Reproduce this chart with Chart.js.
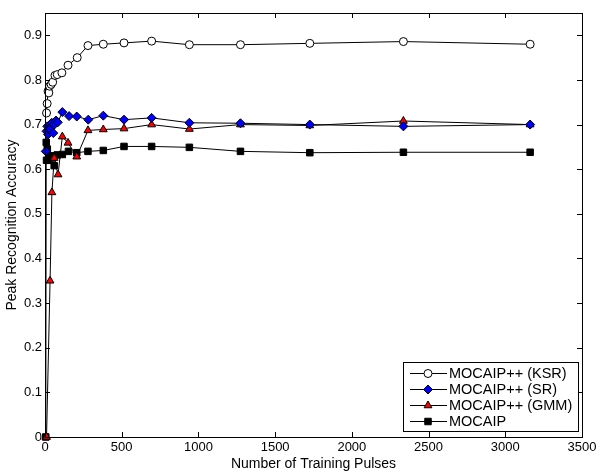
<!DOCTYPE html>
<html>
<head>
<meta charset="utf-8">
<script src="https://cdn.jsdelivr.net/npm/chart.js@4"></script>
<style>
  html, body { margin: 0; padding: 0; background: #fff; }
  #wrap { width: 600px; height: 474px; }
</style>
</head>
<body>
<div id="wrap"><canvas id="accChart" width="600" height="474"></canvas></div>
<script>
// values
const ksrX = [10, 14, 20, 25, 30, 40, 50, 65, 80, 110, 150, 210, 280, 380, 515, 695, 941, 1274, 1726, 2336, 3162];
const ksrY = [0.726, 0.747, 0.775, 0.771, 0.786, 0.790, 0.795, 0.810, 0.812, 0.816, 0.833, 0.850, 0.877, 0.880, 0.883, 0.887, 0.879, 0.879, 0.882, 0.886, 0.880];

const srX = [5, 10, 15, 20, 25, 33, 44, 54, 61, 72, 83, 113, 157, 207, 282, 380, 515, 695, 941, 1274, 1726, 2336, 3162];
const srY = [0.640, 0.685, 0.696, 0.678, 0.689, 0.690, 0.704, 0.681, 0.700, 0.709, 0.705, 0.728, 0.719, 0.718, 0.711, 0.720, 0.711, 0.715, 0.704, 0.703, 0.700, 0.696, 0.700];

const gmmX = [5, 10, 33, 45, 60, 85, 113, 150, 207, 280, 380, 515, 695, 941, 1274, 1726, 2336, 3162];
const gmmY = [0, 0, 0.350, 0.548, 0.625, 0.588, 0.673, 0.659, 0.628, 0.687, 0.689, 0.691, 0.700, 0.690, 0.700, 0.698, 0.708, 0.700];

const mocX = [5, 8, 10, 15, 20, 30, 45, 60, 80, 113, 153, 207, 280, 380, 515, 695, 941, 1274, 1726, 2336, 3162];
const mocY = [0, 0.660, 0.620, 0.645, 0.620, 0.625, 0.630, 0.608, 0.632, 0.633, 0.640, 0.637, 0.640, 0.642, 0.651, 0.651, 0.649, 0.640, 0.637, 0.638, 0.638];

const xTicks = [0, 500, 1000, 1500, 2000, 2500, 3000, 3500];
const yTicks = [0, 0.1, 0.2, 0.3, 0.4, 0.5, 0.6, 0.7, 0.8, 0.9];

const seriesNames = ['MOCAIP++ (KSR)', 'MOCAIP++ (SR)', 'MOCAIP++ (GMM)', 'MOCAIP'];

function toPoints(xs, ys) {
    return xs.map((x, i) => ({ x: x, y: ys[i] }));
}

const FONT = '"Liberation Sans", Arial, sans-serif';

// box, inward ticks and legend, matlab style
const matlabFrame = {
    id: 'matlabFrame',
    afterDraw(chart) {
        const c = chart.ctx;
        const a = chart.chartArea;
        const xs = chart.scales.x, ys = chart.scales.y;
        c.save();
        c.strokeStyle = '#000';
        c.lineWidth = 1;
        c.strokeRect(Math.round(a.left) + 0.5, Math.round(a.top) + 0.5,
            Math.round(a.right - a.left), Math.round(a.bottom - a.top));
        c.beginPath();
        xTicks.forEach(v => {
            const px = Math.round(xs.getPixelForValue(v)) + 0.5;
            c.moveTo(px, a.bottom); c.lineTo(px, a.bottom - 5);
            c.moveTo(px, a.top); c.lineTo(px, a.top + 5);
        });
        yTicks.forEach(v => {
            const py = Math.round(ys.getPixelForValue(v)) + 0.5;
            c.moveTo(a.left, py); c.lineTo(a.left + 5, py);
            c.moveTo(a.right, py); c.lineTo(a.right - 5, py);
        });
        c.stroke();

        // legend box
        const lx = 403, ly = 362, lw = 175, lh = 69;
        c.fillStyle = '#fff';
        c.fillRect(lx, ly, lw, lh);
        c.strokeRect(lx + 0.5, ly + 0.5, lw, lh);
        c.font = '14.5px ' + FONT;
        c.textBaseline = 'middle';
        chart.data.datasets.forEach((ds, i) => {
            const yy = ly + 11 + i * 16;
            c.strokeStyle = '#000';
            c.beginPath();
            c.moveTo(lx + 7, yy + 0.5); c.lineTo(lx + 44, yy + 0.5);
            c.stroke();
            c.fillStyle = ds.pointBackgroundColor;
            c.strokeStyle = '#000';
            c.lineWidth = 1;
            Chart.helpers.drawPoint(c, {
                pointStyle: ds.pointStyle,
                radius: ds.pointRadius,
                borderWidth: 1
            }, lx + 25, yy + 0.5);
            c.fillStyle = '#000';
            c.fillText(ds.label, lx + 46, yy + 1);
        });
        c.restore();
    }
};

const ctx = document.getElementById('accChart').getContext('2d');
const accChart = new Chart(ctx, {
    type: 'line',
    data: {
        datasets: [{
            label: seriesNames[0],
            data: toPoints(ksrX, ksrY),
            borderColor: '#000',
            borderWidth: 1,
            pointStyle: 'circle',
            pointRadius: 4,
            pointBackgroundColor: '#fff',
            pointBorderColor: '#000',
            pointBorderWidth: 1
        }, {
            label: seriesNames[1],
            data: toPoints(srX, srY),
            borderColor: '#000',
            borderWidth: 1,
            pointStyle: 'rectRot',
            pointRadius: 4.5,
            pointBackgroundColor: '#0000ff',
            pointBorderColor: '#000',
            pointBorderWidth: 1
        }, {
            label: seriesNames[2],
            data: toPoints(gmmX, gmmY),
            borderColor: '#000',
            borderWidth: 1,
            pointStyle: 'triangle',
            pointRadius: 4.5,
            pointBackgroundColor: '#ff0000',
            pointBorderColor: '#000',
            pointBorderWidth: 1
        }, {
            label: seriesNames[3],
            data: toPoints(mocX, mocY),
            borderColor: '#000',
            borderWidth: 1,
            pointStyle: 'rect',
            pointRadius: 4.6,
            pointBackgroundColor: '#000',
            pointBorderColor: '#000',
            pointBorderWidth: 1
        }]
    },
    options: {
        responsive: false,
        animation: false,
        clip: false,
        layout: { padding: { left: 0, right: 18, top: 13, bottom: 0 } },
        scales: {
            x: {
                type: 'linear',
                min: 0,
                max: 3500,
                afterBuildTicks: s => { s.ticks = xTicks.map(v => ({ value: v })); },
                afterFit: s => { s.height = 37; },
                ticks: {
                    color: '#000',
                    font: { family: FONT, size: 13 },
                    padding: 3,
                    callback: v => String(v)
                },
                grid: { display: false, drawTicks: false },
                border: { display: false },
                title: {
                    display: true,
                    text: 'Number of Training Pulses',
                    color: '#000',
                    font: { family: FONT, size: 14 },
                    padding: { top: 0, bottom: 1 }
                }
            },
            y: {
                min: 0,
                max: 0.95,
                afterBuildTicks: s => { s.ticks = yTicks.map(v => ({ value: v })); },
                afterFit: s => { s.width = 45; },
                ticks: {
                    color: '#000',
                    font: { family: FONT, size: 13 },
                    padding: 3,
                    callback: v => String(Math.round(v * 10) / 10)
                },
                grid: { display: false, drawTicks: false },
                border: { display: false },
                title: {
                    display: true,
                    text: 'Peak Recognition Accuracy',
                    color: '#000',
                    font: { family: FONT, size: 14 },
                    padding: { top: 4, bottom: 0 }
                }
            }
        },
        plugins: {
            legend: { display: false },
            tooltip: { enabled: false }
        }
    },
    plugins: [matlabFrame]
});
</script>
</body>
</html>
